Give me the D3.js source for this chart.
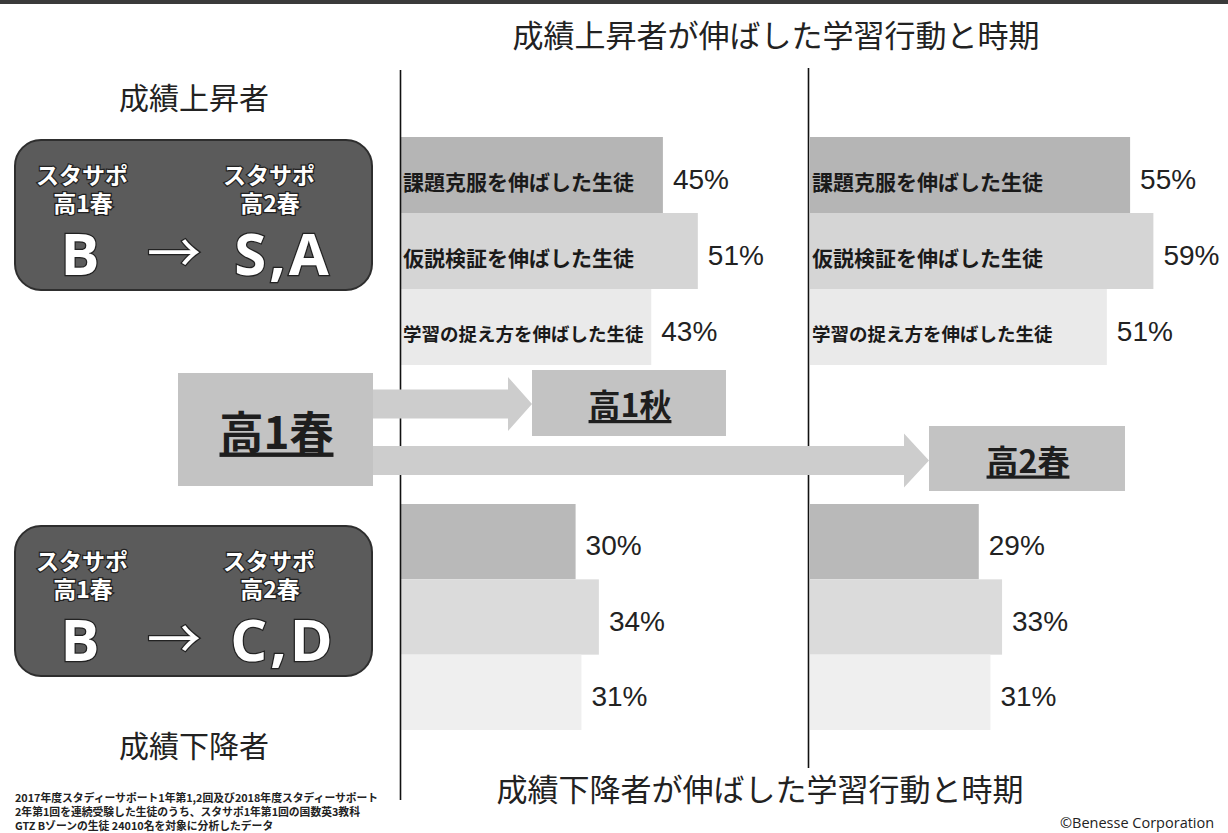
<!DOCTYPE html>
<meta charset="utf-8">
<script src="https://d3js.org/d3.v7.min.js"></script>
<style>body{margin:0;background:#fff}</style>
<body>
<div id="chart"></div>
<script>
// data
const items = ["課題克服を伸ばした生徒", "仮説検証を伸ばした生徒", "学習の捉え方を伸ばした生徒"];
const periods = ["高1秋", "高2春"];
const riseAutumn = [45, 51, 43];
const riseSpring = [55, 59, 51];
const fallAutumn = [30, 34, 31];
const fallSpring = [29, 33, 31];

const W = 1228, H = 833;
const jp = "'Noto Sans CJK JP', 'Noto Sans', sans-serif";
const num = "'Liberation Sans', Arial, sans-serif";
const latin = "'Open Sans', sans-serif";

const svg = d3.select("#chart").append("svg")
    .attr("width", W).attr("height", H)
    .style("background", "#fff");

// top dark band
svg.append("rect").attr("x", 0).attr("y", 0).attr("width", W).attr("height", 4).attr("fill", "#3a3a3a");

const x = d3.scaleLinear().domain([0, 100]).range([0, 582]);
const yTop = d3.scaleBand().domain(items).range([137, 365]);
const yBot = d3.scaleBand().domain(items).range([504, 730]);

const topFills = ["#b5b5b5", "#d5d5d5", "#eaeaea"];
const botFills = ["#b9b9b9", "#dbdbdb", "#efefef"];
const labelSize = [21, 21, 18.5];

const panels = [
    {x0: 401, vals: riseAutumn, y: yTop, fills: topFills, named: true},
    {x0: 810, vals: riseSpring, y: yTop, fills: topFills, named: true},
    {x0: 401, vals: fallAutumn, y: yBot, fills: botFills, named: false},
    {x0: 810, vals: fallSpring, y: yBot, fills: botFills, named: false}
];

panels.forEach(p => {
    const g = svg.append("g").attr("transform", `translate(${p.x0},0)`);
    const rows = items.map((k, i) => ({k, v: p.vals[i], i}));
    g.selectAll("rect")
        .data(rows)
        .join("rect")
            .attr("x", x(0))
            .attr("y", d => p.y(d.k))
            .attr("width", d => x(d.v))
            .attr("height", p.y.bandwidth())
            .attr("fill", d => p.fills[d.i]);
    g.selectAll("text.pct")
        .data(rows)
        .join("text")
            .attr("class", "pct")
            .attr("x", d => x(d.v) + 10)
            .attr("y", d => p.y(d.k) + p.y.bandwidth() / 2 + 4)
            .attr("dominant-baseline", "central")
            .attr("font-family", num)
            .attr("font-size", 28)
            .attr("fill", "#222")
            .text(d => d.v + "%");
    if (p.named) {
        g.selectAll("text.name")
            .data(rows)
            .join("text")
                .attr("class", "name")
                .attr("x", 2)
                .attr("y", d => p.y(d.k) + p.y.bandwidth() / 2 + 6)
                .attr("dominant-baseline", "central")
                .attr("font-family", jp)
                .attr("font-weight", "bold")
                .attr("font-size", d => labelSize[d.i])
                .attr("fill", "#1a1a1a")
                .text(d => d.k);
    }
});

// divider lines
svg.append("line").attr("x1", 400.5).attr("x2", 400.5).attr("y1", 70).attr("y2", 800)
    .attr("stroke", "#111").attr("stroke-width", 1.6);
svg.append("line").attr("x1", 808.5).attr("x2", 808.5).attr("y1", 68).attr("y2", 768)
    .attr("stroke", "#111").attr("stroke-width", 1.6);

// arrows from 高1春
const arrowFill = "#cdcdcd", boxFill = "#c3c3c3";
function arrow(x1, x2, yc, half, headHalf, headLen) {
    const xb = x2 - headLen;
    return `M${x1},${yc - half}H${xb}V${yc - headHalf}L${x2},${yc}L${xb},${yc + headHalf}V${yc + half}H${x1}Z`;
}
svg.append("path").attr("d", arrow(370, 532, 404, 14.5, 27, 24)).attr("fill", arrowFill);
svg.append("path").attr("d", arrow(370, 929, 460.5, 14.5, 27, 25)).attr("fill", arrowFill);

const stageBoxes = [
    {t: "高1春", x: 178, y: 373, w: 195, h: 113, fs: 44},
    {t: periods[0], x: 532, y: 370, w: 194, h: 66, fs: 32},
    {t: periods[1], x: 929, y: 426, w: 196, h: 65, fs: 32}
];
stageBoxes.forEach(b => {
    svg.append("rect").attr("x", b.x).attr("y", b.y).attr("width", b.w).attr("height", b.h).attr("fill", boxFill);
    svg.append("text")
        .attr("x", b.x + b.w / 2 + 1)
        .attr("y", b.y + b.h / 2)
        .attr("text-anchor", "middle")
        .attr("dominant-baseline", "central")
        .attr("font-family", jp)
        .attr("font-weight", "bold")
        .attr("font-size", b.fs)
        .attr("fill", "#1e1e1e")
        .attr("text-decoration", "underline")
        .text(b.t);
});

// titles
svg.append("text").attr("x", 776).attr("y", 33).attr("text-anchor", "middle").attr("dominant-baseline", "central")
    .attr("font-family", jp).attr("font-size", 31).attr("fill", "#222").text("成績上昇者が伸ばした学習行動と時期");
svg.append("text").attr("x", 760).attr("y", 787).attr("text-anchor", "middle").attr("dominant-baseline", "central")
    .attr("font-family", jp).attr("font-size", 31).attr("fill", "#222").text("成績下降者が伸ばした学習行動と時期");
svg.append("text").attr("x", 194).attr("y", 96).attr("text-anchor", "middle").attr("dominant-baseline", "central")
    .attr("font-family", jp).attr("font-size", 30).attr("fill", "#222").text("成績上昇者");
svg.append("text").attr("x", 194).attr("y", 744).attr("text-anchor", "middle").attr("dominant-baseline", "central")
    .attr("font-family", jp).attr("font-size", 30).attr("fill", "#222").text("成績下降者");

// group boxes
const groups = [
    {y: 140, to: "S,A"},
    {y: 526, to: "C,D"}
];
groups.forEach(gr => {
    const g = svg.append("g").attr("transform", `translate(15,${gr.y})`);
    g.append("rect").attr("width", 357).attr("height", 150).attr("rx", 26)
        .attr("fill", "#5b5b5b").attr("stroke", "#2e2e2e").attr("stroke-width", 2);
    const white = sel => sel.attr("fill", "#fff").attr("stroke", "#222").attr("stroke-width", 2.5)
        .attr("paint-order", "stroke").attr("text-anchor", "middle").attr("dominant-baseline", "central");
    const cols = [
        {cx: 67, grade: "高1春", big: "B", bigX: 65, ls: 0},
        {cx: 254, grade: "高2春", big: gr.to, bigX: 268, ls: 3}
    ];
    cols.forEach(c => {
        const t = g.append("text").call(white);
        t.append("tspan").attr("x", c.cx).attr("y", 34).attr("font-family", jp).attr("font-weight", "bold")
            .attr("font-size", 23).text("スタサポ");
        t.append("tspan").attr("x", c.cx + 1).attr("y", 62).attr("font-family", jp).attr("font-weight", "bold")
            .attr("font-size", 23).text(c.grade);
        t.append("tspan").attr("x", c.bigX).attr("y", 112).attr("font-family", latin).attr("font-weight", "bold")
            .attr("font-size", 58).attr("letter-spacing", c.ls).text(c.big);
    });
    g.append("text").attr("x", 159).attr("y", 109).attr("font-family", jp)
        .attr("font-size", 54).text("→").call(white);
});

// footnote
const notes = [
    "2017年度スタディーサポート1年第1,2回及び2018年度スタディーサポート",
    "2年第1回を連続受験した生徒のうち、スタサポ1年第1回の国数英3教科",
    "GTZ Bゾーンの生徒 24010名を対象に分析したデータ"
];
svg.append("text")
    .attr("dominant-baseline", "central")
    .attr("font-family", jp)
    .attr("font-weight", "bold")
    .attr("font-size", 10.8)
    .attr("fill", "#222")
    .selectAll("tspan")
    .data(notes)
    .join("tspan")
        .attr("x", 15)
        .attr("y", (d, i) => 797 + i * 14)
        .text(d => d);

svg.append("text").attr("x", 1060).attr("y", 822).attr("dominant-baseline", "central")
    .attr("font-family", latin).attr("font-size", 14.5).attr("fill", "#222").text("©Benesse Corporation");
</script>
</body>
